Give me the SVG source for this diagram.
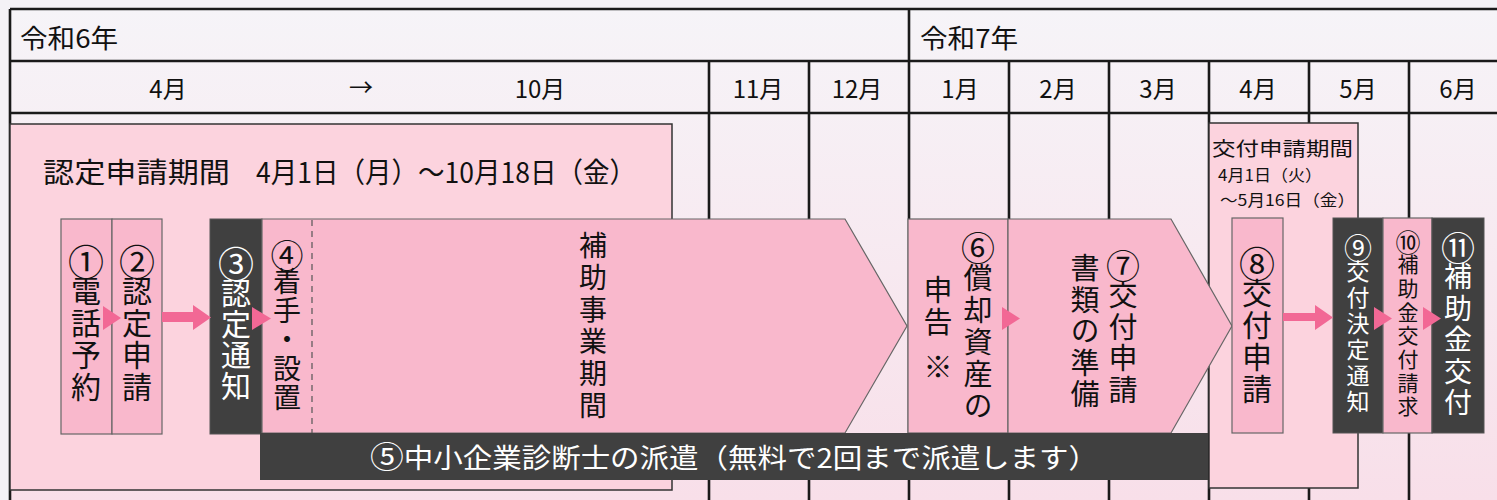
<svg xmlns="http://www.w3.org/2000/svg" width="1497" height="500" viewBox="0 0 1497 500">
<style>
  text { font-family: "Noto Sans CJK JP", "Noto Sans", sans-serif; fill: #111; }
  .hdr { font-size: 24px; text-anchor: middle; }
  .yr { font-size: 26px; }
  .grid { stroke: #1a1a1a; stroke-width: 2.6; fill: none; }
  .period { fill: #fcd3de; stroke: #333; stroke-width: 1.5; }
  .pink { fill: #f9b8cc; stroke: #666; stroke-width: 1.2; }
  .dark { fill: #404040; stroke: #555; stroke-width: 1; }
  .vt { writing-mode: vertical-rl; text-orientation: upright; }
  .w { fill: #fff; }
  .arr { fill: #f26895; }
</style>
<defs>
  <linearGradient id="bg" x1="0" y1="9" x2="0" y2="500" gradientUnits="userSpaceOnUse">
    <stop offset="0" stop-color="#f6f4f8"/>
    <stop offset="1" stop-color="#f8dfe9"/>
  </linearGradient>
</defs>

<rect x="0" y="0" width="1497" height="500" fill="#f4f2f6"/>
<rect x="10" y="9" width="1490" height="495" fill="url(#bg)"/>

<g id="grid">
  <path class="grid" d="M10 9H1500M10 61H1500M10 113H1500M10 9V500M909 9V500M709 61V500M809 61V500M1009 61V500M1109 61V500M1209 61V500M1309 61V500M1409 61V500"/>
  <text class="yr" x="20" y="48" textLength="98" lengthAdjust="spacingAndGlyphs">令和6年</text>
  <text class="yr" x="920" y="48" textLength="98" lengthAdjust="spacingAndGlyphs">令和7年</text>
  <text class="hdr" x="168" y="98">4月</text>
  <text class="hdr" x="361" y="96">→</text>
  <text class="hdr" x="540" y="98">10月</text>
  <text class="hdr" x="758" y="98">11月</text>
  <text class="hdr" x="857" y="98">12月</text>
  <text class="hdr" x="960" y="98">1月</text>
  <text class="hdr" x="1058" y="98">2月</text>
  <text class="hdr" x="1158" y="98">3月</text>
  <text class="hdr" x="1258" y="98">4月</text>
  <text class="hdr" x="1358" y="98">5月</text>
  <text class="hdr" x="1458" y="98">6月</text>
</g>

<g id="cert-period">
  <rect class="period" x="10" y="124" width="662" height="366"/>
  <text x="43" y="183" font-size="28" textLength="187" lengthAdjust="spacingAndGlyphs">認定申請期間</text>
  <text x="256" y="183" font-size="28" textLength="380" lengthAdjust="spacingAndGlyphs">4月1日（月）～10月18日（金）</text>
</g>

<g id="grant-period">
  <rect class="period" x="1209" y="123" width="149" height="365"/>
  <text x="1212" y="156" font-size="19" textLength="141" lengthAdjust="spacingAndGlyphs">交付申請期間</text>
  <text x="1218" y="181" font-size="16" textLength="104" lengthAdjust="spacingAndGlyphs">4月1日（火）</text>
  <text x="1220" y="206" font-size="16" textLength="135" lengthAdjust="spacingAndGlyphs">～5月16日（金）</text>
</g>

<g id="n1">
  <rect class="pink" x="61" y="219" width="51" height="215"/>
  <text class="vt" x="86" y="244" font-size="30" letter-spacing="1.8"><tspan font-size="36" letter-spacing="-4.2">①</tspan>電話予約</text>
</g>
<g id="n2">
  <rect class="pink" x="112" y="219" width="50" height="215"/>
  <text class="vt" x="137" y="244" font-size="30" letter-spacing="1.8"><tspan font-size="36" letter-spacing="-4.2">②</tspan>認定申請</text>
</g>
<g id="n3">
  <rect class="dark" x="210" y="219" width="52" height="215"/>
  <text class="vt w" x="236" y="246" font-size="30" letter-spacing="1.2"><tspan font-size="36" letter-spacing="-4.8">③</tspan>認定通知</text>
</g>
<g id="project-period">
  <path class="pink" d="M262 219H845L907 326L845 433H262Z"/>
  <text class="vt" x="593" y="231" font-size="28" letter-spacing="4">補助事業期間</text>
</g>
<g id="n4">
  <line x1="312" y1="220" x2="312" y2="433" stroke="#555" stroke-width="1.2" stroke-dasharray="6,5"/>
  <text class="vt" x="287" y="239" font-size="28" letter-spacing="0.8"><tspan font-size="33" letter-spacing="-4.2">④</tspan>着手・設置</text>
</g>
<g id="n6">
  <rect class="pink" x="908" y="219" width="100" height="214"/>
  <text class="vt" font-size="29" letter-spacing="3"><tspan x="978" y="231"><tspan font-size="34" letter-spacing="-2">⑥</tspan>償却資産の</tspan><tspan x="938" y="275">申告</tspan><tspan x="938" y="352">※</tspan></text>
</g>
<g id="n7">
  <path class="pink" d="M1008 219H1171L1232 326L1171 433H1008Z"/>
  <text class="vt" font-size="29" letter-spacing="2.5"><tspan x="1123" y="249"><tspan font-size="34" letter-spacing="-2.5">⑦</tspan>交付申請</tspan><tspan x="1085" y="253">書類の準備</tspan></text>
</g>
<g id="n5">
  <rect x="260" y="433" width="948" height="47" fill="#404040"/>
  <text class="w" x="370" y="468" font-size="27" textLength="728" lengthAdjust="spacingAndGlyphs"><tspan font-size="31">⑤</tspan>中小企業診断士の派遣（無料で2回まで派遣します）</text>
</g>
<g id="n8">
  <rect class="pink" x="1232" y="218" width="51" height="215"/>
  <text class="vt" x="1257" y="246" font-size="30" letter-spacing="2"><tspan font-size="36" letter-spacing="-4">⑧</tspan>交付申請</text>
</g>
<g id="n9">
  <rect class="dark" x="1333" y="218" width="50" height="215"/>
  <text class="vt w" x="1358" y="234" font-size="23" letter-spacing="3"><tspan font-size="28" letter-spacing="-2">⑨</tspan>交付決定通知</text>
</g>
<g id="n10">
  <rect class="pink" x="1383" y="218" width="49" height="215"/>
  <text class="vt" x="1408" y="230" font-size="21" letter-spacing="2.7"><tspan font-size="25" letter-spacing="-1.3">⑩</tspan>補助金交付請求</text>
</g>
<g id="n11">
  <rect class="dark" x="1432" y="218" width="52" height="215"/>
  <text class="vt w" x="1458" y="231" font-size="28" letter-spacing="3.5"><tspan font-size="34" letter-spacing="-2.5">⑪</tspan>補助金交付</text>
</g>

<g id="connectors">
  <path class="arr" d="M103 306L121 318L103 330Z"/>
  <path class="arr" d="M162 312H193V305L211 317.5L193 330V322H162Z"/>
  <path class="arr" d="M252 307L271 318.5L252 330Z"/>
  <path class="arr" d="M1002 307L1020 318.5L1002 330Z"/>
  <path class="arr" d="M1283 313H1315V305L1333 317.5L1315 330V321H1283Z"/>
  <path class="arr" d="M1374 307L1392 318.5L1374 330Z"/>
  <path class="arr" d="M1423 307L1441 318.5L1423 330Z"/>
</g>
</svg>
